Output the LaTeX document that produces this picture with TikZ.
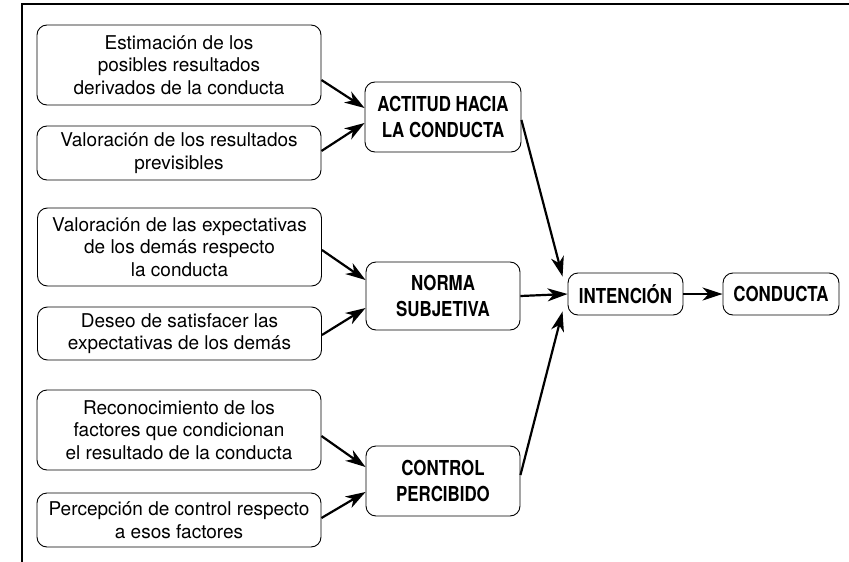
\documentclass[tikz,border=0pt]{standalone}
\usepackage{fontspec}
\setmainfont{TeX Gyre Heros}
\newfontfamily\condb[FakeStretch=0.82]{TeX Gyre Heros}
\usetikzlibrary{arrows.meta,calc}
\tikzset{
  smallbox/.style={draw, line width=0.9pt, rounded corners=10pt, align=center, inner sep=0pt,
    minimum width=284pt, font=\fontsize{19}{22.5}\selectfont},
  bigbox/.style={draw, line width=0.9pt, rounded corners=10pt, align=center, inner sep=0pt,
    font=\condb\bfseries\fontsize{20.6}{26.5}\selectfont},
  conn/.style={line width=2.2pt, -{Stealth[length=20pt,width=13pt,inset=6pt]}},
  frameline/.style={line width=1.4pt}
}
\begin{document}
\begin{tikzpicture}[x=1pt,y=-1pt]
\useasboundingbox (0,0) rectangle (849,562);
\draw[frameline] (22,562) -- (22,4) -- (849,4);
% left column
\node[smallbox, minimum height=80pt] (a1) at (179,65) {Estimación de los\\posibles resultados\\derivados de la conducta};
\node[smallbox, minimum height=54pt] (a2) at (179,153) {Valoración de los resultados\\previsibles};
\node[smallbox, minimum height=78pt] (b1) at (179.5,247) {Valoración de las expectativas\\de los demás respecto\\la conducta};
\node[smallbox, minimum height=53pt] (b2) at (179.5,333.5) {Deseo de satisfacer las\\expectativas de los demás};
\node[smallbox, minimum height=80pt] (c1) at (179,430) {Reconocimiento de los\\factores que condicionan\\el resultado de la conducta};
\node[smallbox, minimum height=54pt] (c2) at (179,520) {Percepción de control respecto\\a esos factores};
% middle column
\node[bigbox, minimum width=156pt, minimum height=70pt] (act) at (443,117) {ACTITUD HACIA\\LA CONDUCTA};
\node[bigbox, minimum width=154pt, minimum height=68pt] (nor) at (443,296) {NORMA\\SUBJETIVA};
\node[bigbox, minimum width=154pt, minimum height=70pt] (con) at (443,481) {CONTROL\\PERCIBIDO};
% right
\node[bigbox, minimum width=115pt, minimum height=42pt] (int) at (625.5,294) {INTENCIÓN};
\node[bigbox, minimum width=116pt, minimum height=42pt] (cond) at (781,294) {CONDUCTA};
% connectors
\draw[conn] ($(a1.east)+(0,15)$) -- ($(act.west)+(0,-9)$);
\draw[conn] ($(a2.east)+(0,-2)$) -- ($(act.west)+(0,6)$);
\draw[conn] ($(b1.east)+(0,3)$) -- ($(nor.west)+(0,-16)$);
\draw[conn] ($(b2.east)+(0,1.5)$) -- ($(nor.west)+(0,12)$);
\draw[conn] ($(c1.east)+(0,6)$) -- ($(con.west)+(0,-14)$);
\draw[conn] ($(c2.east)+(0,-2)$) -- ($(con.west)+(0,11)$);
\draw[conn] ($(act.east)+(0,3)$) -- ($(int.north west)+(-5,4)$);
\draw[conn] (nor.east) -- (int.west);
\draw[conn] ($(con.east)+(0,-6)$) -- ($(int.south west)+(-5,-4)$);
\draw[conn] (int.east) -- (cond.west);
\end{tikzpicture}
\end{document}
